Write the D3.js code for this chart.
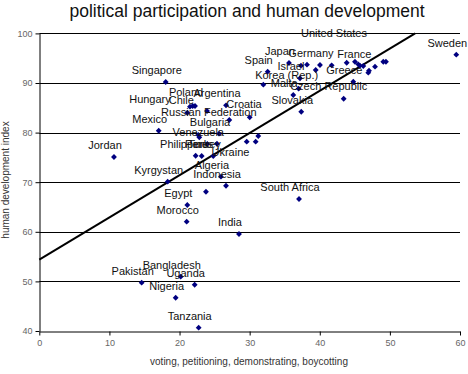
<!DOCTYPE html>
<html><head><meta charset="utf-8">
<script src="https://cdn.jsdelivr.net/npm/d3@7"></script>
<style>body{margin:0;background:#fff}svg{display:block}</style>
</head><body><svg id="c" width="468" height="374"></svg>
<script>
const countries = ["Sweden","Spain","Japan","","","Germany","","","United States","","","","France","","","","","","Greece","Czech Republic","Israel","Korea (Rep.)","","Malta","Slovakia","Croatia","Russian Federation","","Argentina","Poland","Chile","Hungary","","Singapore","Mexico","Bulgaria","","","Venezuela","Ukraine","","","","Philippines","Peru","Turkey","Jordan","Algeria","Indonesia","Kyrgystan","","Egypt","Morocco","India","South Africa","Pakistan","Bangladesh","Uganda","Nigeria","Tanzania"];
const participation = [59.47,32.57,35.61,37.32,38.18,40.03,41.70,39.42,43.84,45.02,45.49,45.73,46.21,47.02,46.92,47.88,49.06,49.44,44.78,43.41,37.18,36.99,31.95,36.22,37.36,30.01,27.10,23.92,26.63,22.21,21.88,21.49,21.11,18.03,17.03,25.63,22.68,22.82,23.96,25.34,29.58,30.86,31.23,22.30,23.16,24.81,10.65,25.91,26.63,18.31,23.77,21.11,21.02,28.48,37.04,14.60,20.17,22.16,19.45,22.73];
const hdi = [95.71,92.28,94.03,93.49,93.69,93.63,93.57,92.62,94.09,94.29,93.77,93.50,93.43,92.48,92.08,93.29,94.29,94.29,90.26,86.83,90.95,88.85,89.66,87.58,84.21,83.08,82.54,84.35,85.50,85.36,85.36,85.22,84.01,90.20,80.38,79.78,79.52,79.05,77.70,77.76,78.17,78.17,79.31,75.34,75.28,75.28,75.08,71.11,69.29,70.10,68.08,65.40,62.04,59.56,66.61,49.74,50.95,49.33,46.71,40.67];
const trendX = [0, 53.6];
const trendY = [54.4, 100];
const xTicks = [0,10,20,30,40,50,60];
const yTicks = [40,50,60,70,80,90,100];

const labelShift = {"United States":[-12.7,-26],"Hungary":[-40,-4],"Chile":[-11.4,-2],"Poland":[-9,-10],
 "Russian Federation":[-20.5,-4],"Ukraine":[13.5,12.3],"Czech Republic":[-15,-8.7],"Korea (Rep.)":[-12,-9.7],
 "Peru":[-5,-8],"Croatia":[-5.7,-9]};
const defShift = [-9,-8];

const svg = d3.select("#c");
const x = d3.scaleLinear().domain([0,60]).range([39.3,460]);
const y = d3.scaleLinear().domain([40,100]).range([331,33.4]);
const F = "Liberation Sans, Arial, sans-serif";

svg.append("text").attr("x",247).attr("y",17).attr("text-anchor","middle")
  .attr("font-family",F).attr("font-size",17.5).attr("fill","#111")
  .text("political participation and human development");

// gridlines
svg.append("g").selectAll("line").data(yTicks.filter(d=>d>40)).join("line")
  .attr("x1",x(0)).attr("x2",x(60)).attr("y1",d=>Math.round(y(d))+0.5).attr("y2",d=>Math.round(y(d))+0.5)
  .attr("stroke","#000").attr("stroke-width",1);

const xa = svg.append("g").attr("transform",`translate(0,${Math.round(y(40))+0.5})`)
  .call(d3.axisBottom(x).tickValues(xTicks).tickSize(4).tickPadding(4).tickSizeOuter(0));
const ya = svg.append("g").attr("transform",`translate(${Math.round(x(0))+0.5},0)`)
  .call(d3.axisLeft(y).tickValues(yTicks).tickSize(4).tickPadding(3).tickSizeOuter(0));
[xa,ya].forEach(a=>{
  a.select(".domain").attr("stroke","#000");
  a.selectAll(".tick line").attr("stroke","#000");
  a.selectAll("text").attr("font-family",F).attr("font-size",9).attr("fill","#666");
});

svg.append("text").attr("x",249).attr("y",365).attr("text-anchor","middle")
  .attr("font-family",F).attr("font-size",10).attr("fill","#333")
  .text("voting, petitioning, demonstrating, boycotting");
svg.append("text").attr("transform","translate(9,180) rotate(-90)").attr("text-anchor","middle")
  .attr("font-family",F).attr("font-size",10).attr("fill","#333")
  .text("human development index");

// trend line
svg.append("path").datum(d3.zip(trendX,trendY))
  .attr("d",d3.line().x(d=>x(d[0])).y(d=>y(d[1])))
  .attr("stroke","#000").attr("stroke-width",2).attr("fill","none");

const pts = d3.range(countries.length).map(i=>({n:countries[i],x:participation[i],y:hdi[i]}));
svg.append("g").selectAll("path").data(pts).join("path")
  .attr("d",d3.symbol(d3.symbolSquare,17))
  .attr("transform",d=>`translate(${x(d.x)},${y(d.y)}) rotate(45)`)
  .attr("fill","#000080");

svg.append("g").selectAll("text").data(pts.filter(d=>d.n)).join("text")
  .attr("x",d=>x(d.x)+(labelShift[d.n]||defShift)[0])
  .attr("y",d=>y(d.y)+(labelShift[d.n]||defShift)[1])
  .attr("text-anchor","middle").attr("font-family",F).attr("font-size",11).attr("fill","#111")
  .text(d=>d.n);
</script></body></html>
